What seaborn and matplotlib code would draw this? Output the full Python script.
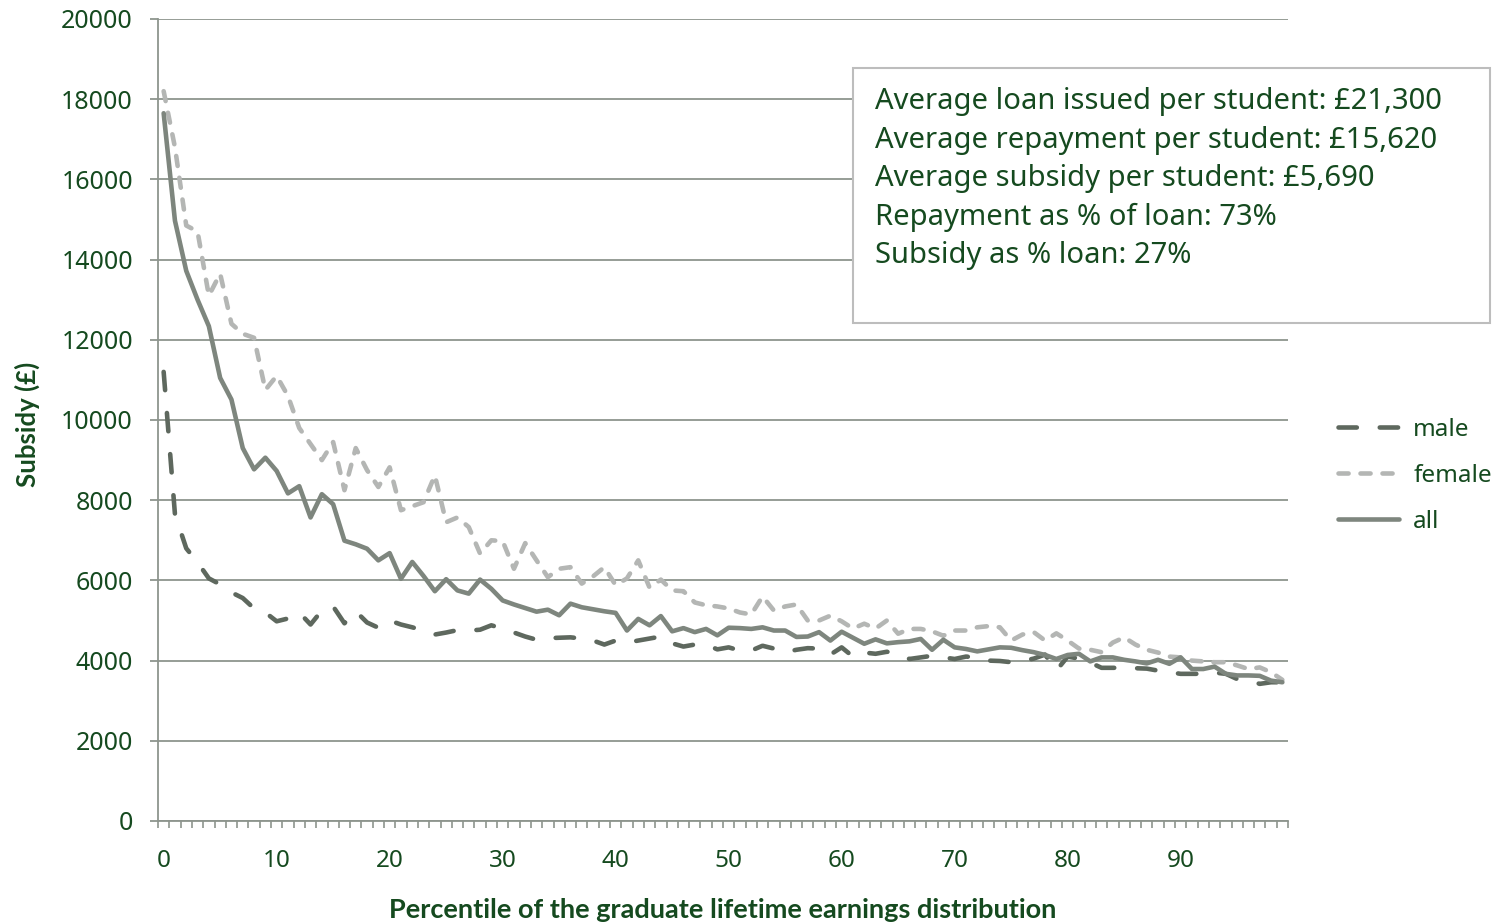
import numpy as np
import pandas as pd
import seaborn as sns
import matplotlib.pyplot as plt
from matplotlib.patches import Rectangle
from matplotlib.lines import Line2D

sns.set_theme(style="white")
plt.rcParams['font.family'] = ['Noto Sans', 'DejaVu Sans']

percentile = list(range(100))

male = [11200, 7650, 6800, 6450, 6050, 5900, 5700, 5560, 5300, 5200,
        4980, 5050, 5200, 4900, 5250, 5350, 4930, 5230, 4950, 4820,
        5000, 4900, 4830, 4750, 4650, 4700, 4760, 4750, 4770, 4880,
        4800, 4700, 4600, 4520, 4560, 4570, 4580, 4550, 4500, 4400,
        4500, 4450, 4500, 4550, 4600, 4430, 4350, 4400, 4400, 4280,
        4330, 4250, 4250, 4370, 4300, 4210, 4270, 4310, 4300, 4150,
        4330, 4100, 4200, 4170, 4220, 4180, 4040, 4080, 4120, 4080,
        4040, 4100, 4080, 4000, 3990, 3960, 3990, 4050, 4150, 3750,
        4100, 4050, 3950, 3820, 3820, 3820, 3810, 3800, 3750, 3710,
        3670, 3670, 3670, 3700, 3670, 3540, 3500, 3420, 3460, 3460]

female = [18200, 16800, 14850, 14700, 13100, 13650, 12400, 12150, 12050, 10750,
          11100, 10600, 9800, 9400, 9000, 9450, 8250, 9300, 8750, 8330,
          8820, 7750, 7850, 7950, 8620, 7450, 7570, 7330, 6670, 7000,
          6980, 6290, 6930, 6500, 6080, 6290, 6330, 5920, 6100, 6330,
          5880, 6050, 6500, 5820, 6020, 5750, 5730, 5450, 5380, 5350,
          5300, 5200, 5150, 5600, 5250, 5350, 5400, 5000, 5000, 5120,
          4980, 4800, 4920, 4800, 5000, 4670, 4790, 4790, 4730, 4620,
          4750, 4750, 4830, 4860, 4830, 4500, 4650, 4710, 4500, 4680,
          4500, 4300, 4270, 4210, 4450, 4580, 4400, 4270, 4200, 4100,
          4080, 4000, 3980, 3960, 3960, 3880, 3790, 3830, 3710, 3520]

all_students = [17650, 14970, 13720, 13000, 12340, 11050, 10510, 9300, 8770, 9060,
                8730, 8170, 8350, 7570, 8150, 7900, 6990, 6900, 6790, 6500,
                6680, 6040, 6460, 6110, 5730, 6030, 5750, 5670, 6020, 5790,
                5500, 5400, 5310, 5220, 5270, 5130, 5420, 5330, 5280, 5230,
                5190, 4750, 5040, 4880, 5110, 4730, 4810, 4710, 4790, 4630,
                4820, 4810, 4790, 4830, 4750, 4750, 4590, 4600, 4710, 4500,
                4720, 4570, 4420, 4530, 4430, 4460, 4480, 4540, 4270, 4520,
                4330, 4290, 4230, 4280, 4330, 4320, 4260, 4210, 4140, 4040,
                4140, 4170, 3980, 4080, 4080, 4020, 3980, 3930, 4020, 3920,
                4080, 3790, 3790, 3850, 3670, 3630, 3630, 3620, 3500, 3460]

series_names = ['male', 'female', 'all']
x_tick_values = [0, 10, 20, 30, 40, 50, 60, 70, 80, 90]
y_tick_values = [0, 2000, 4000, 6000, 8000, 10000, 12000, 14000, 16000, 18000, 20000]
info_lines = ["Average loan issued per student: £21,300",
              "Average repayment per student: £15,620",
              "Average subsidy per student: £5,690",
              "Repayment as % of loan: 73%",
              "Subsidy as % loan: 27%"]

TEXT = '#154a1f'
GRID = '#8e958e'
colors = {'male': '#5e685e', 'female': '#b4b6b4', 'all': '#7e867e'}
dashes = {'male': (4, 5), 'female': (2.2, 2.6), 'all': ''}
LW = 3.3
BOLD_FAMILY = ['Lato', 'DejaVu Sans']

df = pd.DataFrame({
    'Percentile': percentile * 3,
    'Subsidy': male + female + all_students,
    'Group': ['male'] * 100 + ['female'] * 100 + ['all'] * 100,
})

W, H = 1499, 924
fig = plt.figure(figsize=(W / 100, H / 100), dpi=100)
ax = fig.add_axes([158 / W, 1 - 821 / H, 1130 / W, 802 / H])

sns.lineplot(data=df, x='Percentile', y='Subsidy', hue='Group', style='Group',
             hue_order=series_names, style_order=series_names,
             palette=colors, dashes=dashes, linewidth=LW, ax=ax, legend=False)
for ln in ax.lines:
    ln.set_dash_capstyle('round')
    ln.set_solid_capstyle('round')
    ln.set_dash_joinstyle('round')
    ln.set_solid_joinstyle('round')

ax.set_xlim(-0.5, 99.5)
ax.set_ylim(0, 20000)
ax.set_xticks(x_tick_values)
ax.set_xticklabels([str(v) for v in x_tick_values])
ax.set_xticks(np.arange(-0.5, 100, 1), minor=True)
ax.set_yticks(y_tick_values)
ax.set_yticklabels([str(v) for v in y_tick_values])
ax.tick_params(axis='x', which='major', length=0, pad=20, labelsize=17.5, labelcolor=TEXT)
ax.tick_params(axis='x', which='minor', length=5, width=1.2, color=GRID, direction='out', bottom=True)
ax.tick_params(axis='y', length=6, width=1.3, color=GRID, direction='out', left=True,
               pad=12, labelsize=18, labelcolor=TEXT)
ax.set_xlabel('')
ax.set_ylabel('')
ax.yaxis.grid(True, color=GRID, linewidth=1.3)
ax.xaxis.grid(False)
ax.set_axisbelow(True)
for side in ['top', 'right']:
    ax.spines[side].set_visible(False)
for side in ['left', 'bottom']:
    ax.spines[side].set_color(GRID)
    ax.spines[side].set_linewidth(1.3)

fig.text(27 / W, 1 - 424 / H, 'Subsidy (£)', rotation=90, ha='center', va='center',
         fontsize=18.5, fontweight='bold', color=TEXT, family=BOLD_FAMILY)
fig.text(723 / W, 1 - 910 / H, 'Percentile of the graduate lifetime earnings distribution',
         ha='center', va='center', fontsize=19.5, fontweight='bold', color=TEXT, family=BOLD_FAMILY)

# info box
rect = Rectangle((853 / W, 1 - 323 / H), 637 / W, 255 / H, transform=fig.transFigure,
                 facecolor='white', edgecolor='#bdbdbd', linewidth=1.5, zorder=5)
fig.patches.append(rect)
for i, line in enumerate(info_lines):
    fig.text(875 / W, 1 - (109 + 38.6 * i) / H, line, ha='left', va='baseline',
             fontsize=21, color=TEXT, zorder=6)

handles = [Line2D([0], [0], color=colors[n], linewidth=LW,
                  linestyle=(0, dashes[n]) if dashes[n] else '-',
                  dash_capstyle='round', solid_capstyle='round') for n in series_names]
fig.legend(handles, series_names, loc='upper left', bbox_to_anchor=(1338 / W, 1 - 418 / H),
           frameon=False, fontsize=17.5, handlelength=2.5, handletextpad=0.6,
           labelspacing=0.9, borderpad=0, borderaxespad=0, labelcolor=TEXT)

fig.savefig('out.png', dpi=100)
